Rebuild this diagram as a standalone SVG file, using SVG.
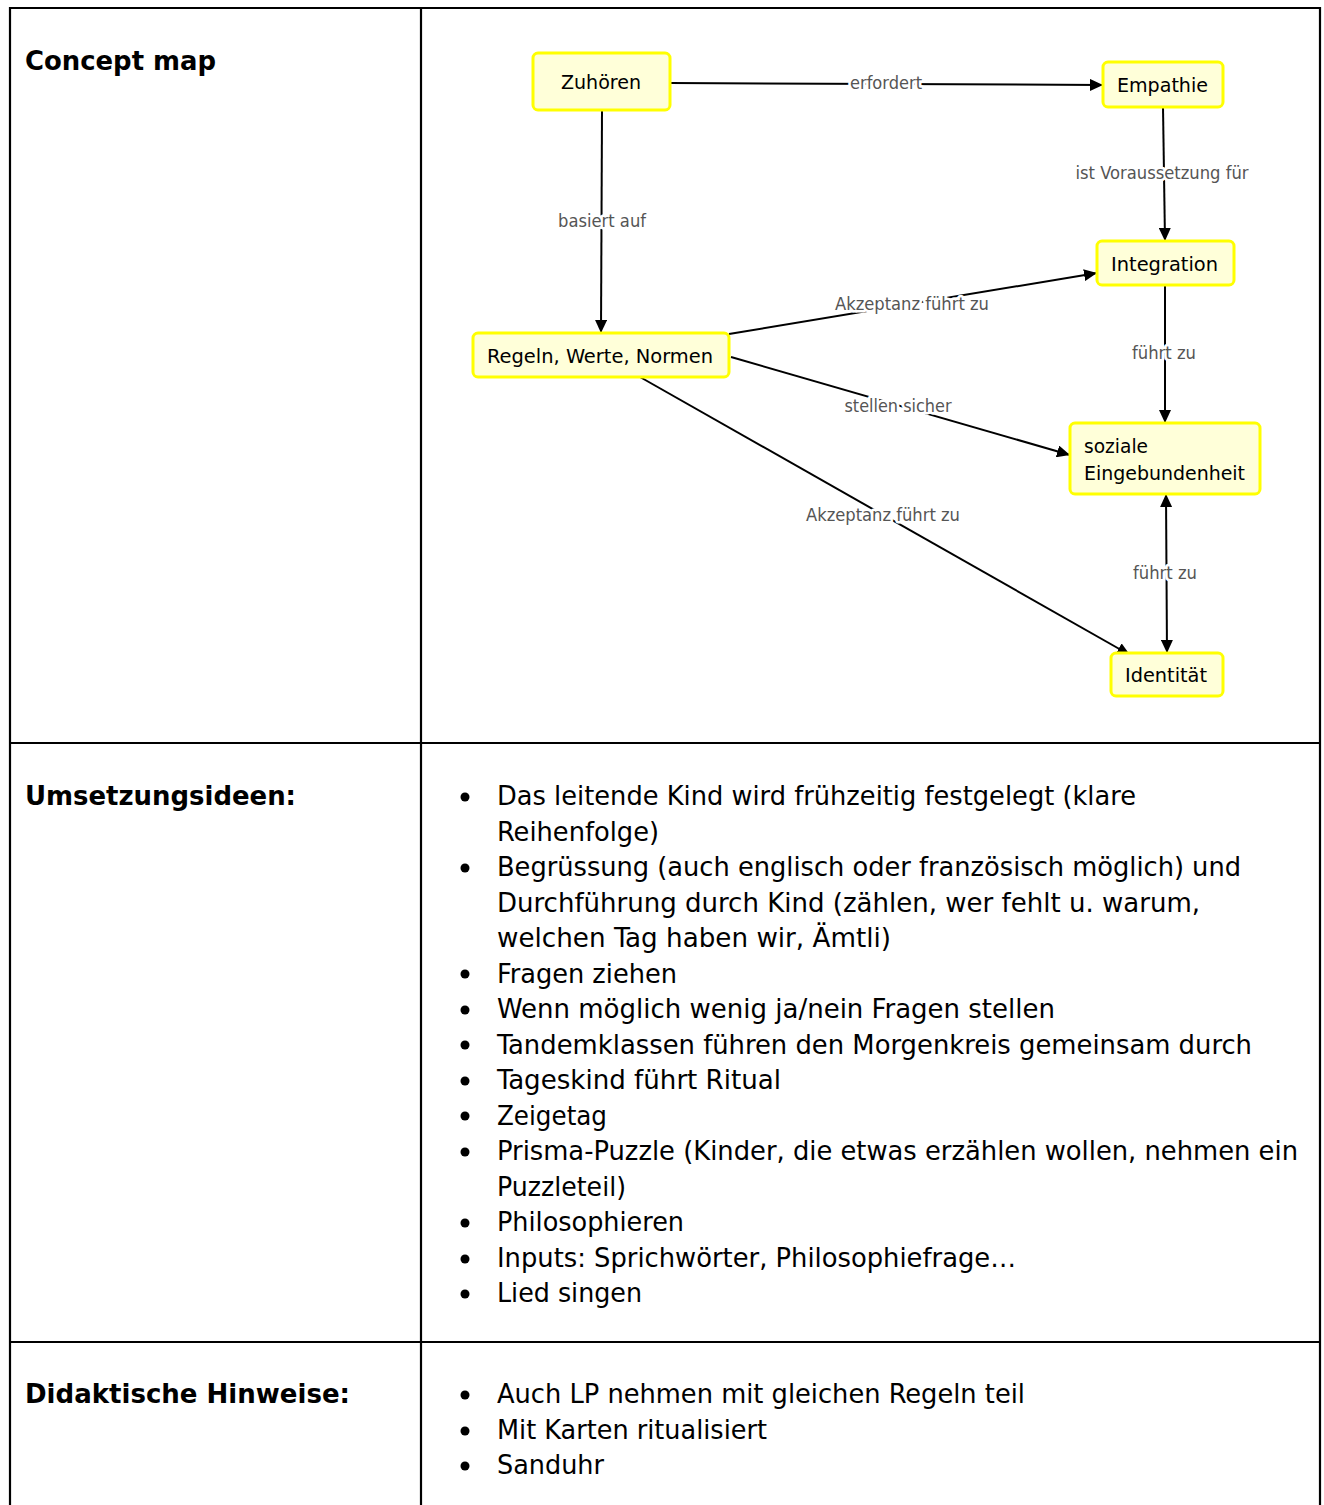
<svg xmlns="http://www.w3.org/2000/svg" width="1324" height="1505" viewBox="0 0 1324 1505">
<style>
.grid{stroke:#000;stroke-width:2.2;fill:none}
.head{font-family:"DejaVu Sans Condensed","DejaVu Sans",sans-serif;font-weight:bold;font-size:27px;fill:#000}
.body{font-family:"DejaVu Sans Condensed","DejaVu Sans",sans-serif;font-size:27px;fill:#000}
.node rect{fill:#ffffd9;stroke:#ffff00;stroke-width:3}
.node text{font-family:"DejaVu Sans Condensed","DejaVu Sans",sans-serif;font-size:20px;fill:#000}
.edge{stroke:#000;stroke-width:2;fill:none}
.lbl{font-family:"DejaVu Sans Condensed","DejaVu Sans",sans-serif;font-size:17px;fill:#555;text-anchor:middle;stroke:#fff;stroke-width:5;paint-order:stroke;stroke-linejoin:round}
</style>
<defs>
<marker id="arr" markerUnits="userSpaceOnUse" markerWidth="14" markerHeight="12" refX="13" refY="6" orient="auto-start-reverse">
<path d="M0,0 L13,6 L0,12 z" fill="#000"/>
</marker>
</defs>
<rect width="1324" height="1505" fill="#fff"/>
<g id="table">
<path class="grid" d="M10,1510 V8 H1320 V1510 M421,8 V1510 M10,743 H1320 M10,1342 H1320"/>
</g>
<g id="headings">
<text class="head" x="25" y="70" textLength="191" lengthAdjust="spacingAndGlyphs">Concept map</text>
<text class="head" x="25" y="805" textLength="271" lengthAdjust="spacingAndGlyphs">Umsetzungsideen:</text>
<text class="head" x="25" y="1403" textLength="325" lengthAdjust="spacingAndGlyphs">Didaktische Hinweise:</text>
</g>
<g id="connectors">
<line class="edge" x1="670" y1="83" x2="1103" y2="85" marker-end="url(#arr)"/>
<line class="edge" x1="602" y1="110" x2="601" y2="333" marker-end="url(#arr)"/>
<line class="edge" x1="1163" y1="107" x2="1165" y2="241" marker-end="url(#arr)"/>
<line class="edge" x1="729" y1="334" x2="1097" y2="273" marker-end="url(#arr)"/>
<line class="edge" x1="1165" y1="285" x2="1165" y2="423" marker-end="url(#arr)"/>
<line class="edge" x1="731" y1="357" x2="1070" y2="455" marker-end="url(#arr)"/>
<line class="edge" x1="640" y1="377" x2="1130" y2="655" marker-end="url(#arr)"/>
<line class="edge" x1="1166" y1="494" x2="1167" y2="653" marker-start="url(#arr)" marker-end="url(#arr)"/>
<text class="lbl" x="886" y="89" textLength="72" lengthAdjust="spacingAndGlyphs">erfordert</text>
<text class="lbl" x="602" y="227" textLength="88" lengthAdjust="spacingAndGlyphs">basiert auf</text>
<text class="lbl" x="1162" y="179" textLength="173" lengthAdjust="spacingAndGlyphs">ist Voraussetzung für</text>
<text class="lbl" x="912" y="310" textLength="154" lengthAdjust="spacingAndGlyphs">Akzeptanz führt zu</text>
<text class="lbl" x="1164" y="359" textLength="64" lengthAdjust="spacingAndGlyphs">führt zu</text>
<text class="lbl" x="898" y="412" textLength="107" lengthAdjust="spacingAndGlyphs">stellen sicher</text>
<text class="lbl" x="883" y="521" textLength="154" lengthAdjust="spacingAndGlyphs">Akzeptanz führt zu</text>
<text class="lbl" x="1165" y="579" textLength="64" lengthAdjust="spacingAndGlyphs">führt zu</text>
</g>
<g id="n-zuhoeren" class="node">
<rect x="533" y="53" width="137" height="57" rx="5"/>
<text x="561" y="89" textLength="80" lengthAdjust="spacingAndGlyphs">Zuhören</text>
</g>
<g id="n-empathie" class="node">
<rect x="1103" y="62" width="120" height="45" rx="5"/>
<text x="1117" y="92" textLength="91" lengthAdjust="spacingAndGlyphs">Empathie</text>
</g>
<g id="n-integration" class="node">
<rect x="1097" y="241" width="137" height="44" rx="5"/>
<text x="1111" y="271" textLength="107" lengthAdjust="spacingAndGlyphs">Integration</text>
</g>
<g id="n-regeln" class="node">
<rect x="473" y="333" width="256" height="44" rx="5"/>
<text x="487" y="363" textLength="226" lengthAdjust="spacingAndGlyphs">Regeln, Werte, Normen</text>
</g>
<g id="n-sozial" class="node">
<rect x="1070" y="423" width="190" height="71" rx="5"/>
<text x="1084" y="453" textLength="64" lengthAdjust="spacingAndGlyphs">soziale</text>
<text x="1084" y="480" textLength="161" lengthAdjust="spacingAndGlyphs">Eingebundenheit</text>
</g>
<g id="n-identitaet" class="node">
<rect x="1111" y="653" width="112" height="43" rx="5"/>
<text x="1125" y="682" textLength="82" lengthAdjust="spacingAndGlyphs">Identität</text>
</g>
<g id="umsetzung">
<g fill="#000">
<circle cx="465" cy="797" r="4.5"/>
<circle cx="465" cy="868" r="4.5"/>
<circle cx="465" cy="974" r="4.5"/>
<circle cx="465" cy="1010" r="4.5"/>
<circle cx="465" cy="1045" r="4.5"/>
<circle cx="465" cy="1081" r="4.5"/>
<circle cx="465" cy="1116" r="4.5"/>
<circle cx="465" cy="1152" r="4.5"/>
<circle cx="465" cy="1223" r="4.5"/>
<circle cx="465" cy="1259" r="4.5"/>
<circle cx="465" cy="1294" r="4.5"/>
</g>
<text class="body" x="497" y="805" textLength="639" lengthAdjust="spacingAndGlyphs">Das leitende Kind wird frühzeitig festgelegt (klare</text>
<text class="body" x="497" y="840.5" textLength="162" lengthAdjust="spacingAndGlyphs">Reihenfolge)</text>
<text class="body" x="497" y="876" textLength="744" lengthAdjust="spacingAndGlyphs">Begrüssung (auch englisch oder französisch möglich) und</text>
<text class="body" x="497" y="911.5" textLength="703" lengthAdjust="spacingAndGlyphs">Durchführung durch Kind (zählen, wer fehlt u. warum,</text>
<text class="body" x="497" y="947" textLength="394" lengthAdjust="spacingAndGlyphs">welchen Tag haben wir, Ämtli)</text>
<text class="body" x="497" y="982.5" textLength="180" lengthAdjust="spacingAndGlyphs">Fragen ziehen</text>
<text class="body" x="497" y="1018" textLength="558" lengthAdjust="spacingAndGlyphs">Wenn möglich wenig ja/nein Fragen stellen</text>
<text class="body" x="497" y="1053.5" textLength="755" lengthAdjust="spacingAndGlyphs">Tandemklassen führen den Morgenkreis gemeinsam durch</text>
<text class="body" x="497" y="1089" textLength="284" lengthAdjust="spacingAndGlyphs">Tageskind führt Ritual</text>
<text class="body" x="497" y="1124.5" textLength="110" lengthAdjust="spacingAndGlyphs">Zeigetag</text>
<text class="body" x="497" y="1160" textLength="801" lengthAdjust="spacingAndGlyphs">Prisma-Puzzle (Kinder, die etwas erzählen wollen, nehmen ein</text>
<text class="body" x="497" y="1195.5" textLength="129" lengthAdjust="spacingAndGlyphs">Puzzleteil)</text>
<text class="body" x="497" y="1231" textLength="187" lengthAdjust="spacingAndGlyphs">Philosophieren</text>
<text class="body" x="497" y="1266.5" textLength="519" lengthAdjust="spacingAndGlyphs">Inputs: Sprichwörter, Philosophiefrage…</text>
<text class="body" x="497" y="1302" textLength="145" lengthAdjust="spacingAndGlyphs">Lied singen</text>
</g>
<g id="didaktik">
<g fill="#000">
<circle cx="465" cy="1395" r="4.5"/>
<circle cx="465" cy="1431" r="4.5"/>
<circle cx="465" cy="1466" r="4.5"/>
</g>
<text class="body" x="497" y="1403" textLength="528" lengthAdjust="spacingAndGlyphs">Auch LP nehmen mit gleichen Regeln teil</text>
<text class="body" x="497" y="1438.5" textLength="270" lengthAdjust="spacingAndGlyphs">Mit Karten ritualisiert</text>
<text class="body" x="497" y="1474" textLength="107" lengthAdjust="spacingAndGlyphs">Sanduhr</text>
</g>
</svg>
